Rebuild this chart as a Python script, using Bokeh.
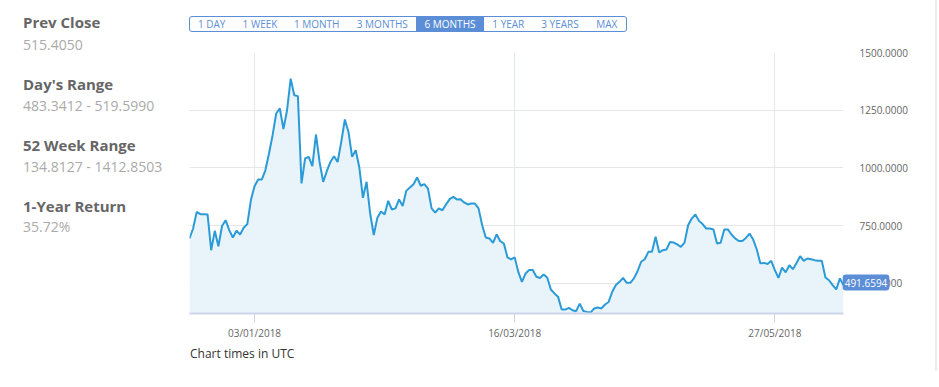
import pandas as pd
from bokeh.plotting import figure
from bokeh.layouts import row, column
from bokeh.models import (Range1d, FixedTicker, DatetimeTickFormatter, NumeralTickFormatter,
                          Label, Div)
from bokeh.embed import file_html
from bokeh.resources import INLINE

# ---------------- data ----------------
start_date = "2017-12-16"
prices = [
    695, 738, 810, 800, 800, 799, 644, 728, 661, 749,
    774, 731, 699, 728, 712, 741, 757, 861, 921, 950,
    950, 990, 1063, 1142, 1236, 1258, 1168, 1250, 1387, 1315,
    1311, 933, 1041, 1048, 1008, 1145, 1026, 940, 986, 1026,
    1051, 1026, 1113, 1210, 1156, 1048, 1077, 1002, 871, 940,
    803, 710, 785, 812, 799, 858, 820, 825, 864, 835,
    901, 916, 930, 959, 923, 930, 911, 825, 807, 825,
    817, 842, 865, 875, 864, 865, 851, 842, 846, 846,
    825, 752, 699, 695, 676, 713, 683, 673, 613, 604,
    613, 550, 507, 543, 558, 558, 529, 524, 539, 526,
    474, 457, 443, 387, 387, 394, 384, 380, 413, 381,
    377, 374, 392, 396, 392, 409, 420, 464, 493, 507,
    524, 503, 503, 522, 553, 594, 605, 637, 637, 702,
    634, 644, 647, 680, 677, 669, 658, 677, 752, 781,
    799, 771, 757, 738, 738, 734, 673, 676, 734, 734,
    712, 695, 684, 684, 697, 716, 690, 647, 587, 589,
    584, 598, 558, 524, 569, 548, 579, 562, 589, 618,
    598, 608, 605, 601, 598, 598, 526, 514, 493, 474,
    522, 491.6594,
]
dates = pd.date_range(start_date, periods=len(prices), freq="D")

x_tick_dates = ["2018-01-03", "2018-03-16", "2018-05-27"]
y_ticks = [500, 750, 1000, 1250, 1500]
buttons = ["1 DAY", "1 WEEK", "1 MONTH", "3 MONTHS", "6 MONTHS", "1 YEAR", "3 YEARS", "MAX"]
active_button = "6 MONTHS"
stats = [("Prev Close", "515.4050"),
         ("Day's Range", "483.3412 - 519.5990"),
         ("52 Week Range", "134.8127 - 1412.8503"),
         ("1-Year Return", "35.72%")]
last_label = "491.6594"
footer = "Chart times in UTC"

# ---------------- layout constants (page pixels) ----------------
FONT = "'Open Sans'"
BLUE = "#5b8ed6"
LEFT_W = 189          # width of the stats column (= left edge of the plot frame)
TOTAL_W, TOTAL_H = 923, 371
EDGE_W = 16           # strip on the far right holding the container border
BTN_H = 32            # height of the button strip
FRAME_TOP, FRAME_BOTTOM, FRAME_RIGHT = 52, 313, 843
FIG_W = TOTAL_W - LEFT_W
BOTTOM_BORDER = 29
FIG_H = FRAME_BOTTOM + BOTTOM_BORDER - BTN_H
FOOT_H = TOTAL_H - BTN_H - FIG_H

# ---------------- stats column ----------------
title_tops = [14.7, 76.7, 137.7, 198.7]
value_tops = [37.6, 98.6, 159.6, 219.6]
parts = []
for (t, v), tt, vt in zip(stats, title_tops, value_tops):
    parts.append(f'<div style="position:absolute;left:23px;top:{tt}px;font-size:15px;line-height:15px;'
                 f'font-weight:bold;color:#666666;white-space:nowrap">{t}</div>')
    parts.append(f'<div style="position:absolute;left:23px;top:{vt}px;font-size:14px;line-height:14px;'
                 f'color:#aaaaaa;white-space:nowrap">{v}</div>')
left_div = Div(text=f'<div style="position:relative;width:{LEFT_W}px;height:{TOTAL_H}px;'
                    f'font-family:{FONT}">' + "".join(parts) + "</div>",
               width=LEFT_W, height=TOTAL_H, margin=0)

# ---------------- button strip ----------------
centers = [211.7, 260, 316.7, 382.3, 450, 508.3, 560, 606.7]
bparts = [f'<div style="position:absolute;left:0px;top:16px;width:438px;height:16px;box-sizing:border-box;'
          f'border:1px solid {BLUE};border-radius:3px"></div>',
          f'<div style="position:absolute;left:{416 - LEFT_W}px;top:17px;width:68px;height:14px;'
          f'background:{BLUE}"></div>']
for b, cx in zip(buttons, centers):
    col = "white" if b == active_button else BLUE
    bparts.append(f'<div style="position:absolute;left:{cx - LEFT_W - 40}px;top:16.5px;width:80px;'
                  f'text-align:center;font-size:10px;line-height:15px;color:{col};white-space:nowrap">{b}</div>')
btn_div = Div(text=f'<div style="position:relative;width:{FIG_W}px;height:{BTN_H}px;font-family:{FONT}">'
                   + "".join(bparts) + "</div>",
              width=FIG_W, height=BTN_H, margin=0)

# ---------------- chart ----------------
p = figure(width=FIG_W, height=FIG_H, x_axis_type="datetime", y_axis_location="right",
           output_backend="svg", toolbar_location=None,
           x_range=Range1d(dates[0], dates[-1]), y_range=Range1d(370, 1500), margin=0)
p.min_border_left = 0
p.min_border_right = TOTAL_W - FRAME_RIGHT
p.min_border_top = FRAME_TOP - BTN_H
p.min_border_bottom = BOTTOM_BORDER
p.outline_line_color = None
p.background_fill_color = "white"
p.border_fill_color = "white"

p.varea(x=dates, y1=0, y2=prices, fill_color="#e9f3fa", fill_alpha=1)
p.line(dates, prices, line_color="#2b9bd8", line_width=2)

xt = [pd.Timestamp(d).value // 10**6 for d in x_tick_dates]
p.xaxis.ticker = FixedTicker(ticks=xt)
fmt = "%d/%m/%Y"
p.xaxis.formatter = DatetimeTickFormatter(days=fmt, months=fmt, years=fmt, hours=fmt,
                                          minutes=fmt, seconds=fmt, milliseconds=fmt,
                                          microseconds=fmt, hourmin=fmt, minsec=fmt)
p.xaxis.axis_line_color = "#ccd6eb"
p.xaxis.axis_line_width = 2
p.xaxis.major_tick_line_color = "#ccd6eb"
p.xaxis.major_tick_out = 9
p.xaxis.major_tick_in = 0
p.xaxis.minor_tick_line_color = None
p.xaxis.major_label_standoff = 3
p.xaxis.major_label_text_font = "Open Sans"
p.xaxis.major_label_text_font_size = "10px"
p.xaxis.major_label_text_color = "#666666"

p.yaxis.ticker = FixedTicker(ticks=y_ticks)
p.yaxis.formatter = NumeralTickFormatter(format="0.0000")
p.yaxis.axis_line_color = None
p.yaxis.major_tick_line_color = None
p.yaxis.minor_tick_line_color = None
p.yaxis.major_label_standoff = 10
p.yaxis.major_label_text_font = "Open Sans"
p.yaxis.major_label_text_font_size = "10px"
p.yaxis.major_label_text_color = "#666666"

p.xgrid.grid_line_color = "#e3e8ee"
p.ygrid.grid_line_color = "#e6e6e6"

# last value callout: lives in the panel above the frame (side-panel annotations are not
# clipped to the frame); screen units are relative to that panel (x from frame left,
# y from the frame top upwards)
callout = Label(x=865.5 - LEFT_W, y=FRAME_TOP - 282, x_units="screen", y_units="screen",
                text=last_label, text_font="Open Sans", text_font_size="10px",
                text_color="white", text_align="center", text_baseline="middle",
                background_fill_color=BLUE, background_fill_alpha=1,
                border_radius=3, padding=dict(left=2, right=2, top=4, bottom=4))
p.above = [callout]

# ---------------- footer ----------------
foot_div = Div(text=f'<div style="position:relative;width:{FIG_W}px;height:{FOOT_H}px;'
                    f'font-family:{FONT}"><div style="position:absolute;left:1px;top:6.3px;font-size:12px;'
                    f'line-height:12px;color:#333333;white-space:nowrap">{footer}</div></div>',
               width=FIG_W, height=FOOT_H, margin=0)

# container border on the far right
edge_div = Div(text=f'<div style="position:relative;width:{EDGE_W}px;height:{TOTAL_H}px">'
                    f'<div style="position:absolute;left:12px;top:0px;width:2px;height:{TOTAL_H}px;'
                    f'background:#ececec"></div></div>',
               width=EDGE_W, height=TOTAL_H, margin=0)

layout = row(left_div, column(btn_div, p, foot_div, spacing=0, margin=0), edge_div,
             spacing=0, margin=0)
open("out.html", "w").write(file_html(layout, INLINE))
